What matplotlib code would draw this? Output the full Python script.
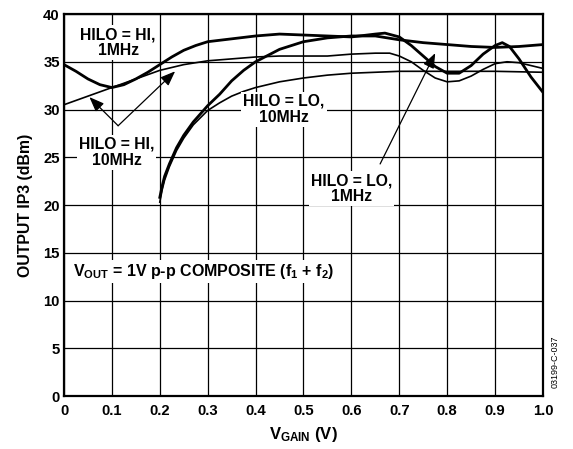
import matplotlib
matplotlib.use("Agg")
import matplotlib.pyplot as plt

plt.rcParams['font.family'] = ['Liberation Sans', 'DejaVu Sans']
plt.rcParams['font.weight'] = 'bold'
plt.rcParams['mathtext.fontset'] = 'custom'
plt.rcParams['mathtext.rm'] = 'Liberation Sans:bold'
plt.rcParams['mathtext.it'] = 'Liberation Sans:bold'
plt.rcParams['mathtext.bf'] = 'Liberation Sans:bold'

# ---- data ----
hi1_v = [0, 0.025, 0.05, 0.075, 0.1, 0.125, 0.15, 0.175, 0.2, 0.225, 0.25, 0.275, 0.3, 0.35, 0.4,
         0.45, 0.5, 0.55, 0.6, 0.65, 0.67, 0.7, 0.725, 0.75, 0.775, 0.8, 0.825, 0.85, 0.875, 0.9,
         0.915, 0.93, 0.95, 0.975, 1.0]
hi1_ip3 = [34.7, 34.0, 33.2, 32.6, 32.3, 32.6, 33.2, 33.9, 34.7, 35.5, 36.2, 36.7, 37.1, 37.4, 37.7,
           37.9, 37.8, 37.7, 37.6, 37.9, 38.0, 37.6, 36.7, 35.6, 34.5, 33.8, 33.8, 34.6, 35.8, 36.7,
           37.0, 36.6, 35.3, 33.4, 31.8]

hi10_v = [0, 0.05, 0.1, 0.15, 0.2, 0.25, 0.3, 0.35, 0.4, 0.45, 0.5, 0.55, 0.6, 0.65, 0.68, 0.7,
          0.725, 0.75, 0.775, 0.8, 0.825, 0.85, 0.875, 0.9, 0.925, 0.95, 0.975, 1.0]
hi10_ip3 = [30.5, 31.4, 32.3, 33.2, 34.1, 34.7, 35.1, 35.3, 35.5, 35.6, 35.6, 35.6, 35.8, 35.9, 35.9, 35.6,
            35.0, 34.1, 33.3, 32.9, 33.0, 33.5, 34.2, 34.8, 35.0, 34.9, 34.6, 34.3]

lo1_v = [0.2, 0.205, 0.21, 0.22, 0.235, 0.25, 0.27, 0.3, 0.325, 0.35, 0.375, 0.4, 0.45, 0.5,
         0.55, 0.6, 0.65, 0.7, 0.75, 0.8, 0.85, 0.9, 0.95, 1.0]
lo1_ip3 = [20.8, 22.0, 23.0, 24.3, 26.0, 27.3, 28.7, 30.4, 31.6, 33.0, 34.1, 35.0, 36.3, 37.1,
           37.5, 37.7, 37.7, 37.3, 37.0, 36.8, 36.6, 36.5, 36.6, 36.8]

lo10_v = [0.2, 0.205, 0.21, 0.22, 0.235, 0.25, 0.27, 0.3, 0.325, 0.35, 0.375, 0.4, 0.45, 0.5,
          0.55, 0.6, 0.7, 0.8, 0.9, 1.0]
lo10_ip3 = [20.3, 21.6, 22.6, 24.0, 25.7, 27.0, 28.4, 29.9, 30.7, 31.4, 31.9, 32.3, 32.9, 33.3,
            33.6, 33.8, 34.0, 34.0, 34.0, 33.9]

x_ticks = [0, 0.1, 0.2, 0.3, 0.4, 0.5, 0.6, 0.7, 0.8, 0.9, 1.0]
x_labels = ["0", "0.1", "0.2", "0.3", "0.4", "0.5", "0.6", "0.7", "0.8", "0.9", "1.0"]
y_ticks = [0, 5, 10, 15, 20, 25, 30, 35, 40]

fig = plt.figure(figsize=(5.73, 4.49), dpi=100)
ax = fig.add_axes([0.1117, 0.118, 0.8359, 0.8508])

ax.plot(hi1_v, hi1_ip3, color='black', lw=2.0, zorder=3)
ax.plot(hi10_v, hi10_ip3, color='black', lw=1.2, zorder=3)
ax.plot(lo1_v, lo1_ip3, color='black', lw=2.0, zorder=3)
ax.plot(lo10_v, lo10_ip3, color='black', lw=1.2, zorder=3)

ax.set_xlim(0, 1.0)
ax.set_ylim(0, 40)
ax.set_xticks(x_ticks)
ax.set_xticklabels(x_labels)
ax.set_yticks(y_ticks)
ax.grid(True, color='black', lw=0.9)
ax.tick_params(axis='x', length=0, labelsize=10.7, pad=6)
ax.tick_params(axis='y', length=0, labelsize=10.7, pad=3)
for lab in ax.get_xticklabels() + ax.get_yticklabels():
    lab.set_fontweight('bold')
for s in ax.spines.values():
    s.set_linewidth(1.6)

ax.set_xlabel('V$_{GAIN}$ (V)', fontsize=12, fontweight='bold', labelpad=5)
ax.set_ylabel('OUTPUT IP3 (dBm)', fontsize=11.4, fontweight='bold', labelpad=7)

box = dict(facecolor='white', edgecolor='none', pad=1.5)
tkw = dict(fontsize=11.3, fontweight='bold', ha='center', va='center', zorder=5, linespacing=1.1)
ax.text(0.113, 37.0, 'HILO = HI,\n1MHz', bbox=box, **tkw)
ax.text(0.11, 25.5, 'HILO = HI,\n10MHz', bbox=box, **tkw)
ax.text(0.459, 30.0, 'HILO = LO,\n10MHz', bbox=box, **tkw)
ax.text(0.60, 21.7, 'HILO = LO,\n1MHz', bbox=box, **tkw)
ax.text(0.019, 13.0, 'V$_{OUT}$ = 1V p-p COMPOSITE (f$_{1}$ + f$_{2}$)', fontsize=11.5,
        fontweight='bold', ha='left', va='center', bbox=box, zorder=5)

akw = dict(arrowstyle='-|>,head_length=0.9,head_width=0.35', color='black', lw=0.9,
           shrinkA=0, shrinkB=0)
ax.annotate('', xy=(0.053, 31.3), xytext=(0.113, 28.3), arrowprops=akw, zorder=4)
ax.annotate('', xy=(0.232, 34.0), xytext=(0.113, 28.3), arrowprops=akw, zorder=4)
ax.annotate('', xy=(0.775, 35.9), xytext=(0.66, 24.3), arrowprops=akw, zorder=4)

fig.text(0.969, 0.136, '03199-C-037', rotation=90, fontsize=6.5, fontweight='normal',
         ha='center', va='bottom')

fig.savefig('out.png', dpi=100)
